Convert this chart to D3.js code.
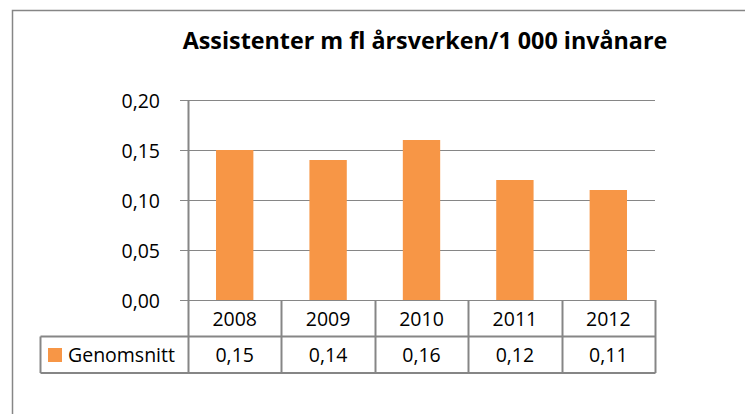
<!DOCTYPE html>
<html><head><meta charset="utf-8">
<script src="https://cdn.jsdelivr.net/npm/d3@7"></script>
<style>body{margin:0;background:#fff}svg{display:block}</style>
</head><body>
<script>
const title = "Assistenter m fl årsverken/1 000 invånare";
const categories = ["2008","2009","2010","2011","2012"];
const values = [0.15,0.14,0.16,0.12,0.11];
const valueLabels = ["0,15","0,14","0,16","0,12","0,11"];
const seriesName = "Genomsnitt";
const yTicks = [0,0.05,0.10,0.15,0.20];

(function(){
const W=745,H=414;
const svg=d3.select("body").append("svg").attr("width",W).attr("height",H);
const font="'Open Sans', sans-serif";
const grid="#868686";
const fs=19.5;

svg.append("rect").attr("x",12.5).attr("y",10.5).attr("width",800).attr("height",500)
  .attr("fill","none").attr("stroke",grid).attr("stroke-width",1.5);

const pL=188,pR=655,pT=100,pB=300;
const x=d3.scaleBand().domain(categories).range([pL,pR]).paddingInner(0.6).paddingOuter(0.3);
const xc=d3.scaleBand().domain(categories).range([pL,pR]);
const y=d3.scaleLinear().domain([0,0.2]).range([pB,pT]);

const t=svg.append("text").attr("x",425).attr("y",48.5).attr("text-anchor","middle")
  .attr("font-family",font).attr("font-weight","bold").attr("font-size",20).attr("fill","#000").text(title);
const tl=t.node().getComputedTextLength();
t.attr("font-size",20*485/tl);

svg.append("g").selectAll("line").data(yTicks).join("line")
  .attr("x1",180).attr("x2",pR).attr("y1",d=>Math.round(y(d))+0.5).attr("y2",d=>Math.round(y(d))+0.5)
  .attr("stroke",grid).attr("stroke-width",1.2);
svg.append("g").selectAll("text").data(yTicks).join("text")
  .attr("x",160).attr("y",d=>y(d)+7.5).attr("text-anchor","end")
  .attr("font-family",font).attr("font-size",fs).attr("fill","#000")
  .text(d=>d3.format(".2f")(d).replace(".",","));

svg.append("g").selectAll("rect").data(values).join("rect")
  .attr("x",(d,i)=>x(categories[i])).attr("width",x.bandwidth())
  .attr("y",d=>y(d)).attr("height",d=>pB-y(d)).attr("fill","#F79646");

const row1=336.5,row2=373;
const lines=[
  [pL,pT,pL,row2],
  [pR,pB,pR,row2],
  [40,row1,pR,row1],
  [40,row2,pR,row2],
  [40,row1,40,row2]
];
categories.forEach((c,i)=>{ if(i>0) lines.push([xc(c),pB,xc(c),row2]); });
svg.append("g").selectAll("line").data(lines).join("line")
  .attr("x1",d=>Math.round(d[0])+0.5).attr("y1",d=>d[1]).attr("x2",d=>Math.round(d[2])+0.5).attr("y2",d=>d[3])
  .attr("stroke",grid).attr("stroke-width",2);

svg.append("g").selectAll("text").data(categories).join("text")
  .attr("x",d=>xc(d)+xc.bandwidth()/2).attr("y",325.5).attr("text-anchor","middle")
  .attr("font-family",font).attr("font-size",fs).attr("fill","#000").text(d=>d);
svg.append("g").selectAll("text").data(valueLabels).join("text")
  .attr("x",(d,i)=>xc(categories[i])+xc.bandwidth()/2).attr("y",361.5).attr("text-anchor","middle")
  .attr("font-family",font).attr("font-size",fs).attr("fill","#000").text(d=>d);

svg.append("rect").attr("x",48).attr("y",348).attr("width",14).attr("height",14).attr("fill","#F79646");
const lt=svg.append("text").attr("x",68).attr("y",361.5).attr("font-family",font).attr("font-size",fs)
  .attr("fill","#000").text(seriesName);
const ll=lt.node().getComputedTextLength();
if(ll>113) lt.attr("font-size",fs*113/ll);
})();
</script>
</body></html>
